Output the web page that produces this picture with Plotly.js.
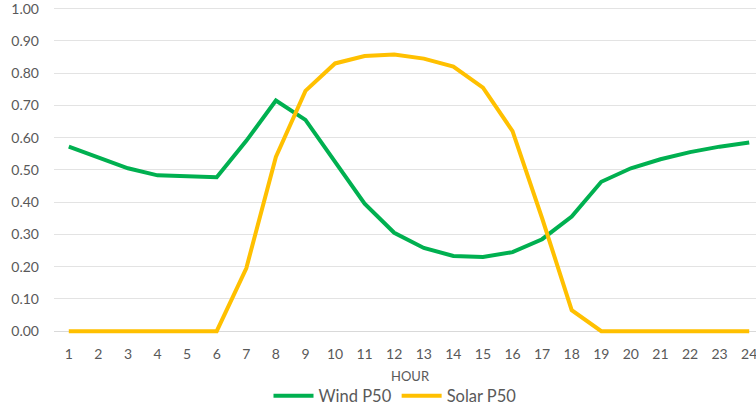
<!DOCTYPE html>
<html><head><meta charset="utf-8">
<script src="https://cdn.plot.ly/plotly-3.0.1.min.js"></script>
<style>html,body{margin:0;padding:0;background:#fff;overflow:hidden;width:756px;height:407px}</style>
</head><body><div id="chart" style="width:764px;height:407px"></div>
<script>
var hours = [1,2,3,4,5,6,7,8,9,10,11,12,13,14,15,16,17,18,19,20,21,22,23,24];
var windP50 = [0.572,0.540,0.505,0.483,0.480,0.477,0.590,0.715,0.655,0.525,0.395,0.305,0.258,0.233,0.230,0.245,0.285,0.355,0.463,0.505,0.533,0.555,0.572,0.585];
var solarP50 = [0,0,0,0,0,0,0.195,0.540,0.745,0.830,0.853,0.858,0.845,0.820,0.755,0.620,0.350,0.065,0,0,0,0,0,0];
var yTicks = [0,0.1,0.2,0.3,0.4,0.5,0.6,0.7,0.8,0.9,1.0];
var xTitle = 'HOUR';

var font = {family:'Lato, "Open Sans", sans-serif', color:'#595959'};
var traces = [
  {x:hours, y:windP50, name:'Wind P50', type:'scatter', mode:'lines', line:{color:'#00b050', width:4}},
  {x:hours, y:solarP50, name:'Solar P50', type:'scatter', mode:'lines', line:{color:'#ffc000', width:4}}
];
var layout = {
  width:764, height:407,
  margin:{l:54, r:0, t:7, b:72, autoexpand:false},
  paper_bgcolor:'#fff', plot_bgcolor:'#fff',
  font:Object.assign({size:14}, font),
  showlegend:true,
  legend:{orientation:'h', x:395/764, xanchor:'center', xref:'container', yref:'container', y:11/407, yanchor:'middle', font:Object.assign({size:16.5}, font), itemwidth:40, tracegroupgap:0},
  xaxis:{range:[0.5,24.5], automargin:false, tickmode:'array', tickvals:hours, ticktext:hours.map(String), showgrid:false, zeroline:false, showline:false, ticks:'', ticklabelstandoff:9, ticklabeloverflow:'allow', tickfont:Object.assign({size:14}, font), fixedrange:true},
  yaxis:{range:[-0.012,1.005], automargin:false, tickmode:'array', tickvals:yTicks, ticktext:yTicks.map(function(v){return v.toFixed(2);}), showgrid:true, gridcolor:'#e3e3e3', gridwidth:1, zeroline:true, zerolinecolor:'#d9d9d9', zerolinewidth:1, showline:false, ticks:'', ticklabelstandoff:14, ticklabeloverflow:'allow', tickfont:Object.assign({size:14}, font), fixedrange:true},
  annotations:[{text:xTitle, xref:'paper', yref:'paper', x:(410-54)/710, y:(335-376)/328, xanchor:'center', yanchor:'middle', showarrow:false, font:Object.assign({size:13}, font)}]
};
Plotly.newPlot('chart', traces, layout, {displayModeBar:false, staticPlot:true});
</script></body></html>
